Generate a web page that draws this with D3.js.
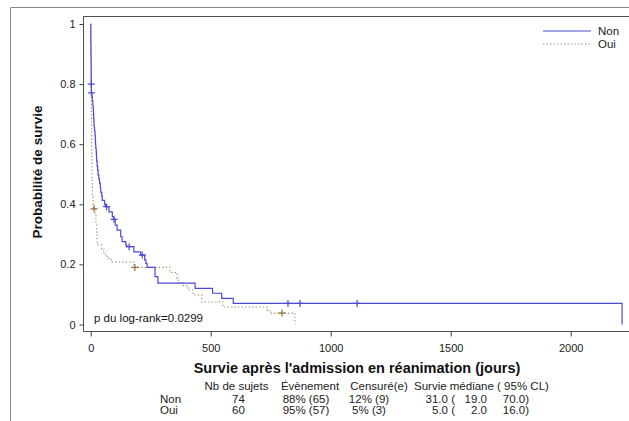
<!DOCTYPE html>
<html>
<head>
<meta charset="utf-8">
<script src="https://cdn.jsdelivr.net/npm/d3@7"></script>
<style>
  html, body { margin: 0; padding: 0; background: #fff; }
  svg { display: block; font-family: "Liberation Sans", Arial, sans-serif; }
</style>
</head>
<body>
<div id="chart"></div>
<script>
// Kaplan-Meier estimates: [jours, survie après l'évènement]
const groups = ["Non", "Oui"];

const nonSteps = [
  [0.3, 0.936], [1, 0.90], [1.5, 0.865], [2, 0.83], [2.2, 0.80],
  [2.9, 0.771], [5, 0.757], [7, 0.743], [9, 0.728], [10.5, 0.714],
  [11.5, 0.700], [12.5, 0.686], [13.5, 0.672], [14, 0.658], [16, 0.644],
  [18, 0.63], [19, 0.615], [20, 0.60], [21, 0.587], [23, 0.572],
  [24, 0.558], [25, 0.543], [27, 0.527], [29, 0.513], [31, 0.498],
  [34, 0.484], [37, 0.47], [40, 0.455], [42, 0.44], [46, 0.427],
  [48, 0.413], [58, 0.399], [62, 0.392], [76, 0.375], [90, 0.359],
  [95, 0.35], [102, 0.331], [110, 0.314], [125, 0.292], [131, 0.276],
  [146, 0.265], [150, 0.259], [180, 0.242], [208, 0.231], [225, 0.215],
  [230, 0.203], [235, 0.19], [268, 0.159], [280, 0.138], [435, 0.12],
  [508, 0.104], [546, 0.087], [594, 0.070], [2214, 0]
];
const nonCensored = [2.6, 3.3, 66, 97, 160, 215, 822, 872, 1110];

const ouiSteps = [
  [1, 0.90], [2, 0.78], [3, 0.67], [4, 0.57], [5, 0.48], [7, 0.43],
  [10, 0.40], [12, 0.385], [18, 0.37], [22, 0.335], [25, 0.30],
  [27, 0.265], [45, 0.248], [55, 0.232], [70, 0.220], [85, 0.208],
  [180, 0.19], [330, 0.173], [360, 0.155], [365, 0.14], [385, 0.13],
  [405, 0.115], [426, 0.098], [463, 0.075], [551, 0.058], [735, 0.048],
  [747, 0.038], [851, 0]
];
const ouiCensored = [14, 184, 797];

const xTicks = [0, 500, 1000, 1500, 2000];
const yTicks = [0, 0.2, 0.4, 0.6, 0.8, 1];

const pText = "p du log-rank=0.0299";
const xTitle = "Survie après l'admission en réanimation (jours)";
const yTitle = "Probabilité de survie";

// Tableau récapitulatif sous le graphique
const tableHeader = ["Nb de sujets", "Évènement", "Censuré(e)", "Survie médiane ( 95% CL)"];
const nSubjects = ["74", "60"];
const events = ["88% (65)", "95% (57)"];
const censored = ["12% (9)", "5% (3)"];
const medianSurv = ["31.0", "5.0"];
const medianLower = ["19.0", "2.0"];
const medianUpper = ["70.0", "16.0"];

const W = 629, H = 421;
const colors = { Non: "#4a4ad6", Oui: "#a8835a" };
const keepSpaces = s => s.replace(/ /g, "\u00a0");

const svg = d3.select("#chart").append("svg")
  .attr("width", W).attr("height", H);

// cadre extérieur
svg.append("path")
  .attr("d", "M10.5,430V7.5H640")
  .attr("fill", "none").attr("stroke", "#8a8a8a").attr("stroke-width", 1);

const frame = { left: 83.5, top: 16.5, right: 640, bottom: 331.5 };

const x = d3.scaleLinear().domain([0, 2000]).range([90.7, 570.7]);
const y = d3.scaleLinear().domain([0, 1]).range([324.5, 24]);

// cadre du graphique
svg.append("path")
  .attr("d", `M${frame.right},${frame.top}H${frame.left}V${frame.bottom}H${frame.right}`)
  .attr("fill", "none").attr("stroke", "#505050").attr("stroke-width", 1);

const yAxis = svg.append("g")
  .attr("transform", `translate(${frame.left},0)`)
  .call(d3.axisLeft(y).tickValues(yTicks).tickSize(4).tickPadding(4)
    .tickFormat(d3.format("~g")));
yAxis.select(".domain").remove();

const xAxis = svg.append("g")
  .attr("transform", `translate(0,${frame.bottom})`)
  .call(d3.axisBottom(x).tickValues(xTicks).tickSize(5).tickPadding(8)
    .tickFormat(d3.format("d")));
xAxis.select(".domain").remove();

svg.selectAll(".tick line").attr("stroke", "#404040");
svg.selectAll(".tick text")
  .attr("font-family", "Liberation Sans, Arial, sans-serif")
  .attr("font-size", 11).attr("fill", "#222");

// courbes de survie
const line = d3.line()
  .x(d => x(d[0])).y(d => y(d[1]))
  .curve(d3.curveStepAfter);

function survAt(steps, t) {
  let s = 1;
  for (const [ti, si] of steps) { if (ti <= t) s = si; else break; }
  return s;
}

const series = [
  { name: "Non", steps: nonSteps, cens: nonCensored, dash: null, width: 1.2 },
  { name: "Oui", steps: ouiSteps, cens: ouiCensored, dash: "1.3,2.2", width: 1.1 }
];

series.slice().reverse().forEach(sr => {
  const pts = [[0, 1]].concat(sr.steps);
  svg.append("path")
    .datum(pts)
    .attr("d", line)
    .attr("fill", "none")
    .attr("stroke", colors[sr.name])
    .attr("stroke-width", sr.width)
    .attr("stroke-dasharray", sr.dash);

  const r = 3.5;
  svg.append("g").selectAll("path")
    .data(sr.cens)
    .join("path")
    .attr("d", t => {
      const cx = x(t), cy = y(survAt(sr.steps, t));
      return `M${cx - r},${cy}H${cx + r}M${cx},${cy - r}V${cy + r}`;
    })
    .attr("stroke", sr.name === "Oui" ? "#9a6a3c" : colors.Non)
    .attr("stroke-width", 1.2)
    .attr("fill", "none");
});

// légende
const legend = svg.append("g").attr("font-size", 11.5).attr("fill", "#222");
groups.forEach((g, i) => {
  const ly = 31 + i * 13;
  legend.append("line")
    .attr("x1", 543).attr("x2", 591).attr("y1", ly).attr("y2", ly)
    .attr("stroke", colors[g])
    .attr("stroke-width", g === "Non" ? 1.2 : 1)
    .attr("stroke-dasharray", g === "Non" ? null : "1.3,2.2");
  legend.append("text")
    .attr("x", 598).attr("y", ly + 4)
    .text(g);
});

// p du log-rank
svg.append("text")
  .attr("x", 94).attr("y", 322)
  .attr("font-size", 11.5).attr("fill", "#111")
  .text(pText);

// titres des axes
svg.append("text")
  .attr("x", 357).attr("y", 373)
  .attr("text-anchor", "middle")
  .attr("font-size", 14.5).attr("font-weight", "bold").attr("fill", "#111")
  .text(xTitle);

svg.append("text")
  .attr("transform", "translate(42,172) rotate(-90)")
  .attr("text-anchor", "middle")
  .attr("font-size", 13.5).attr("font-weight", "bold").attr("fill", "#111")
  .text(yTitle);

// tableau
const tbl = svg.append("g").attr("font-size", 11.5).attr("fill", "#222");
const headerX = [236.5, 310, 379, 414];
const headerAnchor = ["middle", "middle", "middle", "start"];
tableHeader.forEach((h, i) => {
  tbl.append("text")
    .attr("x", headerX[i]).attr("y", 390)
    .attr("text-anchor", headerAnchor[i])
    .text(keepSpaces(h));
});
groups.forEach((g, i) => {
  const ry = 402.5 + i * 11.8;
  tbl.append("text").attr("x", 160).attr("y", ry).text(g);
  tbl.append("text").attr("x", 238.5).attr("y", ry).attr("text-anchor", "middle").text(nSubjects[i]);
  tbl.append("text").attr("x", 306).attr("y", ry).attr("text-anchor", "middle").text(events[i]);
  tbl.append("text").attr("x", 369).attr("y", ry).attr("text-anchor", "middle").text(censored[i]);
  tbl.append("text").attr("x", 455).attr("y", ry).attr("text-anchor", "end").text(`${medianSurv[i]} (`);
  tbl.append("text").attr("x", 487).attr("y", ry).attr("text-anchor", "end").text(medianLower[i]);
  tbl.append("text").attr("x", 529).attr("y", ry).attr("text-anchor", "end").text(`${medianUpper[i]})`);
});
</script>
</body>
</html>
